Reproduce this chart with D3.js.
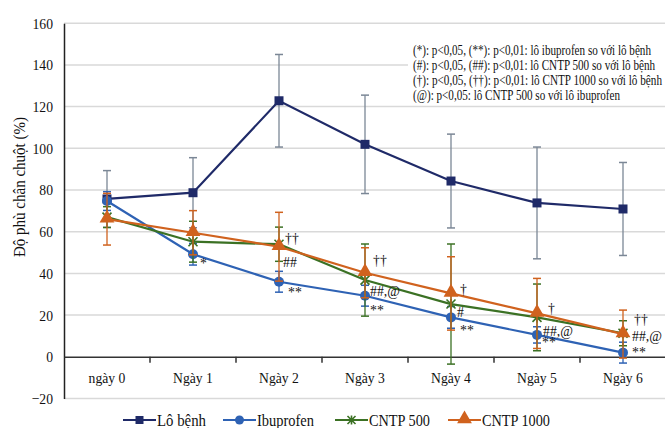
<!DOCTYPE html>
<html><head><meta charset="utf-8">
<script src="https://cdn.jsdelivr.net/npm/d3@7/dist/d3.min.js"></script>
<style>body{margin:0;background:#fff}svg{display:block;font-family:"Liberation Serif","Times New Roman",serif}</style>
</head><body><svg id="c" width="665" height="428"></svg>
<script>
const categories = ["ngày 0","Ngày 1","Ngày 2","Ngày 3","Ngày 4","Ngày 5","Ngày 6"];
const yTicks = [-20,0,20,40,60,80,100,120,140,160];
const seriesNames = ["Lô bệnh","Ibuprofen","CNTP 500","CNTP 1000"];
const loBenh = [75.7,78.7,122.8,101.9,84.3,73.8,70.9];
const loBenhErr = [13.6,16.8,22.2,23.6,22.5,26.8,22.3];
const ibuprofen = [74.7,49.2,36.0,29.3,18.9,10.5,2.0];
const ibuprofenErr = [4.5,5.2,5.0,5.0,5.2,3.9,5.0];
const cntp500 = [67.0,55.2,54.0,36.8,25.3,18.9,11.3];
const cntp500Err = [5.0,9.8,8.2,17.3,28.8,16.0,6.0];
const cntp1000 = [66.0,59.5,52.8,40.3,30.4,20.8,10.9];
const cntp1000Err = [12.4,10.6,16.5,12.0,17.6,16.8,11.5];
const ibuMarks = ["","*","**","**","**","**","**"];
const c500Marks = ["","","##","##,@","#","##,@","##,@"];
const c1000Marks = ["","","††","††","†","†","††"];
const noteLines = [
 "(*): p<0,05, (**): p<0,01: lô ibuprofen so với lô bệnh",
 "(#): p<0,05, (##): p<0,01: lô CNTP 500 so với lô bệnh",
 "(†): p<0,05, (††): p<0,01: lô CNTP 1000 so với lô bệnh",
 "(@): p<0,05: lô CNTP 500 so với lô ibuprofen"];

// layout / style (not data)
const SQUEEZE = 0.88;
const noteWidths = [238, 242, 249, 207];
const legendWidths = [49, 57, 61, 68];
const markOffsets = {
 ibu:  [[0,0],[7,8.5],[9,10],[5,14],[9,12],[5,7],[9,-1]],
 c500: [[0,0],[0,0],[4,18],[5,11],[6,8],[6,13],[9,3]],
 c1000:[[0,0],[0,0],[6,-9],[8,-13],[9,-5],[11,-6],[11,-15]]
};
const styles = [
 {color:"#1f2a68", err:"#7b8796", marker:"square"},
 {color:"#2e62b4", err:"#2e62b4", marker:"circle"},
 {color:"#3b7124", err:"#3b7124", marker:"star"},
 {color:"#d0621e", err:"#d0621e", marker:"triangle"}
];
const data = [
 {vals:loBenh, err:loBenhErr},
 {vals:ibuprofen, err:ibuprofenErr},
 {vals:cntp500, err:cntp500Err},
 {vals:cntp1000, err:cntp1000Err}
];

const svg = d3.select("#c");
const x = d3.scaleBand().domain(categories).range([64,666]).padding(0);
const y = d3.scaleLinear().domain([-20,160]).range([398.5,23.2]);
const cx = c => x(c) + x.bandwidth()/2;

function squeeze(sel, f){
 sel.each(function(){
  const L = this.getComputedTextLength();
  if(L>0) d3.select(this).attr("textLength", L*(f||SQUEEZE)).attr("lengthAdjust","spacingAndGlyphs");
 });
}
function fitW(sel, w){ sel.attr("textLength", w).attr("lengthAdjust","spacingAndGlyphs"); }

// gridlines
svg.append("g").selectAll("line").data(yTicks.filter(t=>t!==0)).join("line")
 .attr("x1",64).attr("x2",665).attr("y1",d=>y(d)).attr("y2",d=>y(d))
 .attr("stroke","#d9d9d9").attr("stroke-width",1.5);

// y axis
const ya = svg.append("g").attr("transform","translate(64,0)")
 .call(d3.axisLeft(y).tickValues(yTicks).tickSize(0).tickPadding(11));
ya.select(".domain").attr("stroke","#222").attr("stroke-width",1.5);
ya.selectAll("text").attr("font-family","Liberation Serif").attr("font-size",15.5).attr("fill","#111");
squeeze(ya.selectAll("text"));

// zero axis with ticks between categories
const xa = svg.append("g").attr("transform",`translate(0,${y(0)})`)
 .call(d3.axisBottom(x).tickSize(0).tickFormat(""));
xa.select(".domain").attr("stroke","#333").attr("stroke-width",1.5);
svg.append("g").selectAll("line").data(categories.slice(1)).join("line")
 .attr("x1",d=>x(d)).attr("x2",d=>x(d)).attr("y1",y(0)).attr("y2",y(0)+6)
 .attr("stroke","#333").attr("stroke-width",1.5);
squeeze(svg.append("g").selectAll("text").data(categories).join("text")
 .attr("x",d=>cx(d)).attr("y",383).attr("text-anchor","middle")
 .attr("font-size",15.5).attr("fill","#111").text(d=>d));

// y title
fitW(svg.append("text").attr("transform","translate(25,187) rotate(-90)")
 .attr("text-anchor","middle").attr("font-size",16.5).attr("fill","#111")
 .text("Độ phù chân chuột (%)"), 140);

// stat notes
svg.append("rect").attr("x",408).attr("y",40).attr("width",257).attr("height",63).attr("fill","#fff");
svg.append("g").selectAll("text").data(noteLines).join("text")
 .attr("x",413).attr("y",(d,i)=>54.5+i*15.2).attr("font-size",14).attr("fill","#111").text(d=>d)
 .attr("textLength",(d,i)=>noteWidths[i]).attr("lengthAdjust","spacingAndGlyphs");

function drawMarker(g, type, color, s){
 if(type==="square") g.append("rect").attr("x",-s/2).attr("y",-s/2).attr("width",s).attr("height",s).attr("fill",color);
 else if(type==="circle") g.append("circle").attr("r",s/2+0.5).attr("fill",color);
 else if(type==="triangle") g.append("path").attr("d",d3.symbol(d3.symbolTriangle, s*s*0.95)()).attr("fill",color).attr("transform","translate(0,-1)");
 else if(type==="star"){
  const h=s/2;
  g.append("path").attr("d",`M${-h},${-h}L${h},${h}M${-h},${h}L${h},${-h}M0,${-h-0.5}L0,${h+0.5}`)
   .attr("stroke",color).attr("stroke-width",1.6).attr("fill","none");
 }
}

const line = d3.line().x((d,i)=>cx(categories[i])).y(d=>y(d));
data.forEach((s,si)=>{
 const st = styles[si];
 const g = svg.append("g");
 s.vals.forEach((v,i)=>{
  const xx = cx(categories[i]), lo=y(v - s.err[i]), hi=y(v + s.err[i]);
  g.append("line").attr("x1",xx).attr("x2",xx).attr("y1",lo).attr("y2",hi).attr("stroke",st.err).attr("stroke-width",1.3);
  [lo,hi].forEach(yy=>g.append("line").attr("x1",xx-4).attr("x2",xx+4).attr("y1",yy).attr("y2",yy).attr("stroke",st.err).attr("stroke-width",1.5));
 });
 g.append("path").datum(s.vals).attr("d",line).attr("fill","none").attr("stroke",st.color).attr("stroke-width",2.2);
 s.vals.forEach((v,i)=>{
  const m = g.append("g").attr("transform",`translate(${cx(categories[i])},${y(v)})`);
  drawMarker(m, st.marker, st.color, si===3?10:9);
 });
});

// significance marks
function marks(labels, vals, offs){
 labels.forEach((t,i)=>{
  if(!t) return;
  squeeze(svg.append("text").attr("x",cx(categories[i])+offs[i][0]).attr("y",y(vals[i])+offs[i][1])
   .attr("dy","0.35em").attr("font-size",15).attr("fill","#111").text(t), 0.92);
 });
}
marks(ibuMarks, ibuprofen, markOffsets.ibu);
marks(c500Marks, cntp500, markOffsets.c500);
marks(c1000Marks, cntp1000, markOffsets.c1000);

// legend
const legX = [123,223,335,448];
const lg = svg.append("g");
seriesNames.forEach((n,i)=>{
 const st = styles[i];
 const g = lg.append("g").attr("transform",`translate(${legX[i]},420)`);
 g.append("line").attr("x1",0).attr("x2",33).attr("stroke",st.color).attr("stroke-width",2.2);
 const m = g.append("g").attr("transform","translate(16.5,0)");
 drawMarker(m, st.marker, st.color, i===3?10:8);
 fitW(g.append("text").attr("x",34).attr("y",0).attr("dy","0.35em").attr("font-size",16).attr("fill","#111").text(n), legendWidths[i]);
});
</script></body></html>
